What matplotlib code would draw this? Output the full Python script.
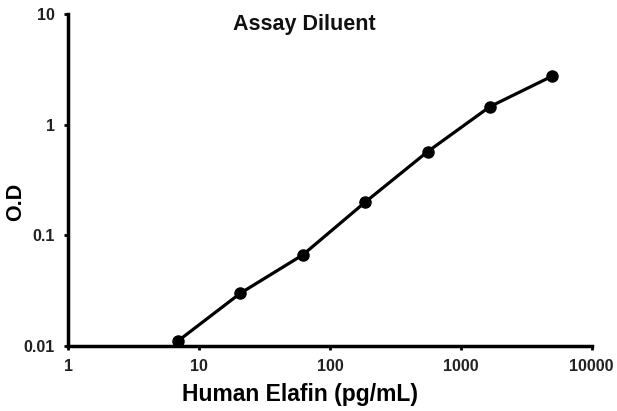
import matplotlib
matplotlib.use("Agg")
import matplotlib.pyplot as plt
from matplotlib.ticker import FixedLocator, NullLocator

# standard curve, 3-fold dilutions
conc = [6.86, 20.6, 61.7, 185, 556, 1667, 5000]
od = [0.0111, 0.030, 0.0665, 0.199, 0.570, 1.455, 2.75]

x_ticks = [1, 10, 100, 1000, 10000]
x_labels = ["1", "10", "100", "1000", "10000"]
y_ticks = [0.01, 0.1, 1, 10]
y_labels = ["0.01", "0.1", "1", "10"]

plt.rcParams['font.family'] = ['Liberation Sans', 'DejaVu Sans']

fig = plt.figure(figsize=(6.17, 4.11), dpi=100)
ax = fig.add_axes([0.111, 0.158, 0.848, 0.808])

ax.plot(conc, od, color='black', linewidth=2.3, marker='o', markersize=8,
        solid_capstyle='round', clip_on=False)

ax.set_xscale('log')
ax.set_yscale('log')
ax.set_xlim(1, 10000)
ax.set_ylim(0.01, 10)

ax.xaxis.set_major_locator(FixedLocator(x_ticks))
ax.yaxis.set_major_locator(FixedLocator(y_ticks))
ax.xaxis.set_minor_locator(NullLocator())
ax.yaxis.set_minor_locator(NullLocator())
ax.set_xticklabels(x_labels, fontweight='bold', fontsize=11.5, color='#222222')
ax.set_yticklabels(y_labels, fontweight='bold', fontsize=11.5, color='#222222')
ax.tick_params(axis='x', direction='out', length=3, width=2, pad=6)
ax.tick_params(axis='y', direction='out', length=3, width=2, pad=7)

for s in ['top', 'right']:
    ax.spines[s].set_visible(False)
for s in ['left', 'bottom']:
    ax.spines[s].set_linewidth(2.5)

ax.set_xlabel('Human Elafin (pg/mL)', fontweight='bold', fontsize=16.5, labelpad=7)
ax.xaxis.label.set_x(0.443)
ax.set_ylabel('O.D', fontweight='bold', fontsize=15.5)
ax.yaxis.set_label_coords(-0.081, 0.433)
ax.text(0.45, 0.967, 'Assay Diluent', transform=ax.transAxes, ha='center', va='center',
        fontweight='bold', fontsize=15.5, color='#111111')

fig.savefig('out.png', dpi=100)
